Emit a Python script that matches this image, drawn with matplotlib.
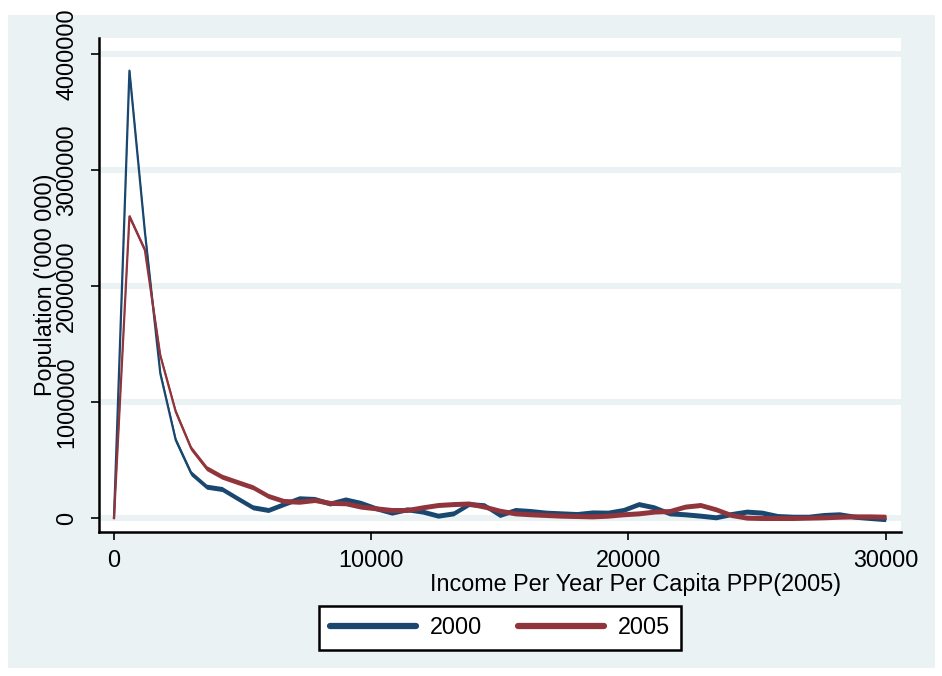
import numpy as np
import matplotlib.pyplot as plt
from matplotlib.patches import Rectangle

plt.rcParams['font.family'] = ['Liberation Sans', 'DejaVu Sans']

# income bins (step 600) and population per bin
income = np.arange(0, 30001, 600)
pop_2000 = [0, 3856000, 2470000, 1247000, 672000, 385000, 270000, 250000, 170000, 92000,
            69000, 120000, 170000, 164000, 125000, 160000, 130000, 83000, 46000, 75000,
            55000, 20000, 40000, 120000, 110000, 26000, 69000, 60000, 46000, 40000,
            34000, 48000, 46000, 69000, 120000, 92000, 40000, 32000, 20000, 6000,
            34000, 55000, 46000, 17000, 11000, 11000, 26000, 32000, 11000, 0, -10000]
pop_2005 = [0, 2600000, 2310000, 1400000, 916000, 600000, 430000, 356000, 310000, 265000,
            190000, 147000, 140000, 155000, 130000, 127000, 98000, 83000, 69000, 69000,
            92000, 112000, 120000, 125000, 98000, 63000, 40000, 32000, 26000, 20000,
            17000, 14000, 20000, 32000, 40000, 55000, 60000, 98000, 112000, 75000,
            26000, 3000, 0, 0, 0, 3000, 6000, 11000, 14000, 14000, 11000]

years = ['2000', '2005']
colors = ['#1a476f', '#90353b']
bg = '#eaf2f3'
fs = 16.8

W, H = 942, 676
fig = plt.figure(figsize=(W / 100, H / 100), dpi=100)
fig.patch.set_facecolor('white')
fig.patches.append(Rectangle((8 / W, (H - 668) / H), (935 - 8) / W, (668 - 15) / H,
                             transform=fig.transFigure, facecolor=bg, edgecolor='none',
                             zorder=-5))

ax = fig.add_axes([99 / W, (H - 532) / H, (901 - 99) / W, (532 - 38) / H])
ax.set_facecolor('white')

ax.set_xlim(-583, 30598)
ax.set_ylim(-120700, 4137900)

# horizontal bands
for v in range(0, 4000001, 1000000):
    ax.axhline(v, color=bg, lw=4.3, zorder=1)

# half of the vertical pen thickness, in data units
half = 2.5 * 8621
for y, c, lab in zip([pop_2000, pop_2005], colors, years):
    y = np.asarray(y, dtype=float)
    ax.fill_between(income, y - half, y + half, color=c, lw=0, zorder=3)
    ax.plot(income, y, color=c, lw=1.6, zorder=3, label=lab)

ax.set_xticks([0, 10000, 20000, 30000])
ax.set_yticks([0, 1000000, 2000000, 3000000, 4000000])
ax.set_xticklabels(['0', '10000', '20000', '30000'], fontsize=fs)
ax.set_yticklabels(['0', '1000000', '2000000', '3000000', '4000000'], fontsize=fs,
                   rotation=90, va='center')
ax.tick_params(axis='both', direction='out', length=6, width=1.2, color='black')
ax.tick_params(axis='x', pad=6)
ax.tick_params(axis='y', pad=9)

for s in ['top', 'right']:
    ax.spines[s].set_visible(False)
for s in ['left', 'bottom']:
    ax.spines[s].set_linewidth(1.8)
    ax.spines[s].set_color('black')

ax.set_xlabel('Income Per Year Per Capita PPP(2005)', fontsize=fs)
ax.xaxis.set_label_coords((636 - 99) / (901 - 99), -(584 - 532) / (532 - 38))
ax.xaxis.label.set_va('center')
ax.set_ylabel("Population ('000 000)", fontsize=fs)
ax.yaxis.set_label_coords(-(99 - 46) / (901 - 99), 0.5)
ax.yaxis.label.set_va('center')

leg = fig.legend(loc='center', bbox_to_anchor=(500 / W, (H - 628) / H), ncol=2,
                 fontsize=fs, frameon=True, fancybox=False, framealpha=1,
                 handlelength=3.7, handletextpad=0.6, columnspacing=1.5,
                 borderpad=0.45, borderaxespad=0)
leg.get_frame().set_edgecolor('black')
leg.get_frame().set_facecolor('white')
leg.get_frame().set_linewidth(1.8)
for h in leg.get_lines():
    h.set_linewidth(4.5)
    h.set_solid_capstyle('round')

fig.savefig('out.png', dpi=100)
